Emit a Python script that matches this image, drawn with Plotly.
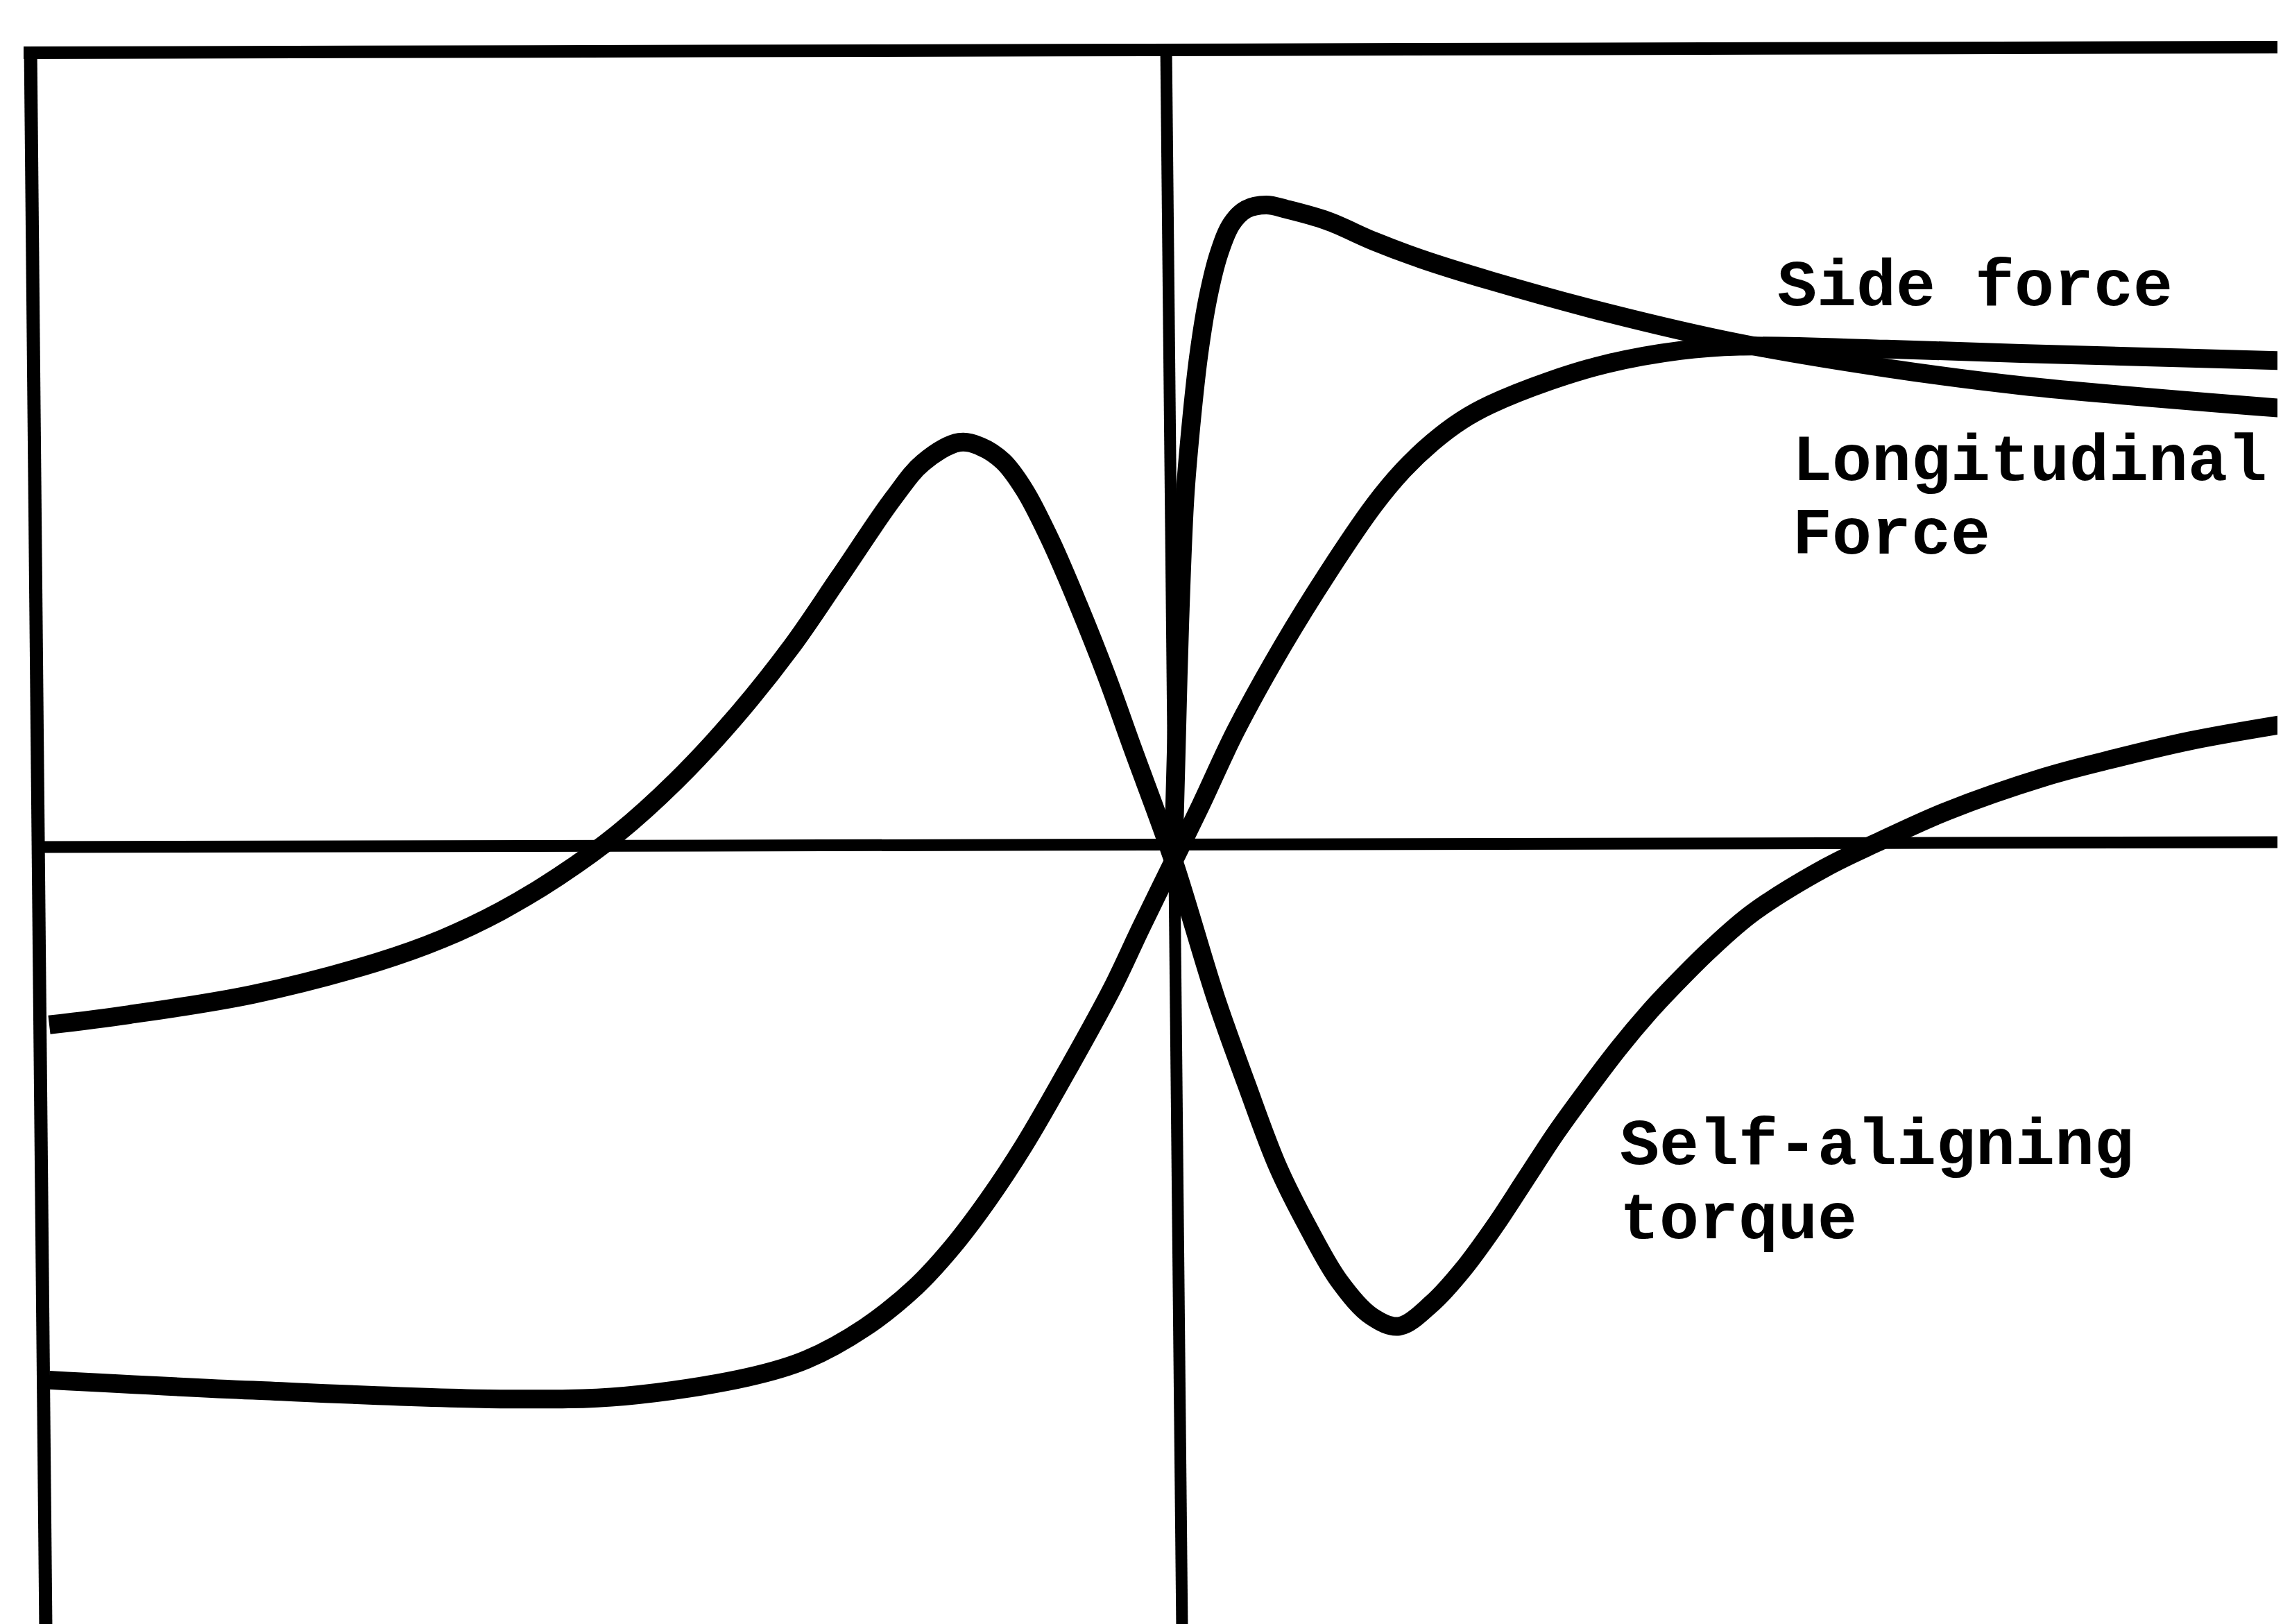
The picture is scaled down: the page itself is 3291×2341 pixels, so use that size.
import plotly.graph_objects as go

# ---- data (arbitrary units; x = slip, y = force / torque) ----
torque_x = [-9.861, -9.159, -8.074, -6.990, -6.416, -5.905, -5.395, -4.884, -4.374, -3.863,
            -3.353, -2.932, -2.460, -2.205, -1.886, -1.695, -1.503, -1.312, -1.082, -0.840,
            -0.597, -0.367, -0.010, 0.360, 0.628, 0.909, 1.177, 1.445, 1.725, 1.968,
            2.261, 2.529, 2.810, 3.078, 3.346, 3.614, 3.895, 4.163, 4.341, 4.686,
            5.069, 5.707, 6.154, 6.779, 7.621, 8.195, 8.897, 9.764]
torque_y = [-2.270, -2.141, -1.884, -1.480, -1.185, -0.836, -0.395, 0.138, 0.800, 1.590,
            2.509, 3.391, 4.383, 4.824, 5.082, 5.027, 4.843, 4.476, 3.832, 3.023,
            2.141, 1.222, -0.193, -1.921, -3.005, -4.071, -4.843, -5.505, -5.946, -6.075,
            -5.781, -5.358, -4.806, -4.218, -3.630, -3.097, -2.564, -2.105, -1.829, -1.332,
            -0.855, -0.285, 0.028, 0.432, 0.855, 1.075, 1.314, 1.535]

side_x = [-9.861, -8.074, -5.905, -4.820, -3.735, -3.225, -2.715, -2.268, -1.950, -1.631,
          -1.312, -0.929, -0.546, -0.291, -0.010, 0.232, 0.538, 0.947, 1.342, 1.751,
          2.006, 2.261, 2.516, 2.771, 3.282, 3.792, 4.430, 4.953, 6.242, 7.416, 9.764]
side_y = [-6.754, -6.883, -6.993, -6.956, -6.717, -6.496, -6.093, -5.578, -5.082, -4.475,
          -3.777, -2.821, -1.811, -1.038, -0.211, 0.505, 1.443, 2.509, 3.428, 4.292,
          4.733, 5.082, 5.358, 5.560, 5.854, 6.074, 6.240, 6.295, 6.258, 6.203, 6.111]

long_x = [-0.010, 0.015, 0.047, 0.092, 0.143, 0.213, 0.296, 0.392, 0.500, 0.628,
          0.806, 0.985, 1.342, 1.751, 2.159, 2.771, 3.792, 4.953, 6.242, 7.416, 9.764]
long_y = [-0.193, 1.149, 2.821, 4.383, 5.265, 6.185, 6.920, 7.471, 7.839, 8.023,
          8.078, 8.023, 7.876, 7.619, 7.398, 7.122, 6.717, 6.332, 6.019, 5.799, 5.505]

labels = ["Side force", "Longitudinal", "Force", "Self-aligning", "torque"]

W, H = 3291, 2341
fig = go.Figure()

for xs, ys in [(torque_x, torque_y), (side_x, side_y), (long_x, long_y)]:
    fig.add_trace(go.Scatter(x=xs, y=ys, mode="lines",
                             line=dict(color="black", width=27, shape="spline", smoothing=1.0),
                             hoverinfo="skip", showlegend=False))

def px(x, y):
    return x / W, 1 - y / H

shapes = []
def seg(p0, p1, w):
    x0, y0 = px(*p0)
    x1, y1 = px(*p1)
    shapes.append(dict(type="line", xref="paper", yref="paper", x0=x0, y0=y0, x1=x1, y1=y1,
                       line=dict(color="black", width=w), layer="above"))

seg((36, 60), (58, H), 19)          # left frame
seg((26, 68), (W, 60), 18)          # top frame
seg((45, 1213), (W, 1206), 17)      # horizontal axis
seg((1673, 60), (1696, H), 17)      # vertical axis

ann_pos = [(2552, 407), (2574, 659), (2574, 765), (2325, 1645), (2325, 1752)]
annotations = []
for t, (ax, ay) in zip(labels, ann_pos):
    x, y = px(ax, ay)
    annotations.append(dict(text=t, x=x, y=y, xref="paper", yref="paper",
                            xanchor="left", yanchor="middle", showarrow=False,
                            font=dict(family="Liberation Mono", size=95, color="black", weight="bold")))

fig.update_layout(
    width=W, height=H,
    margin=dict(l=0, r=0, t=0, b=0),
    paper_bgcolor="white", plot_bgcolor="white",
    xaxis=dict(range=[-10.244, 9.764], visible=False, fixedrange=True),
    yaxis=dict(range=[-9.903, 10.595], visible=False, fixedrange=True),
    shapes=shapes, annotations=annotations, showlegend=False,
)

fig.write_html("out.html")
